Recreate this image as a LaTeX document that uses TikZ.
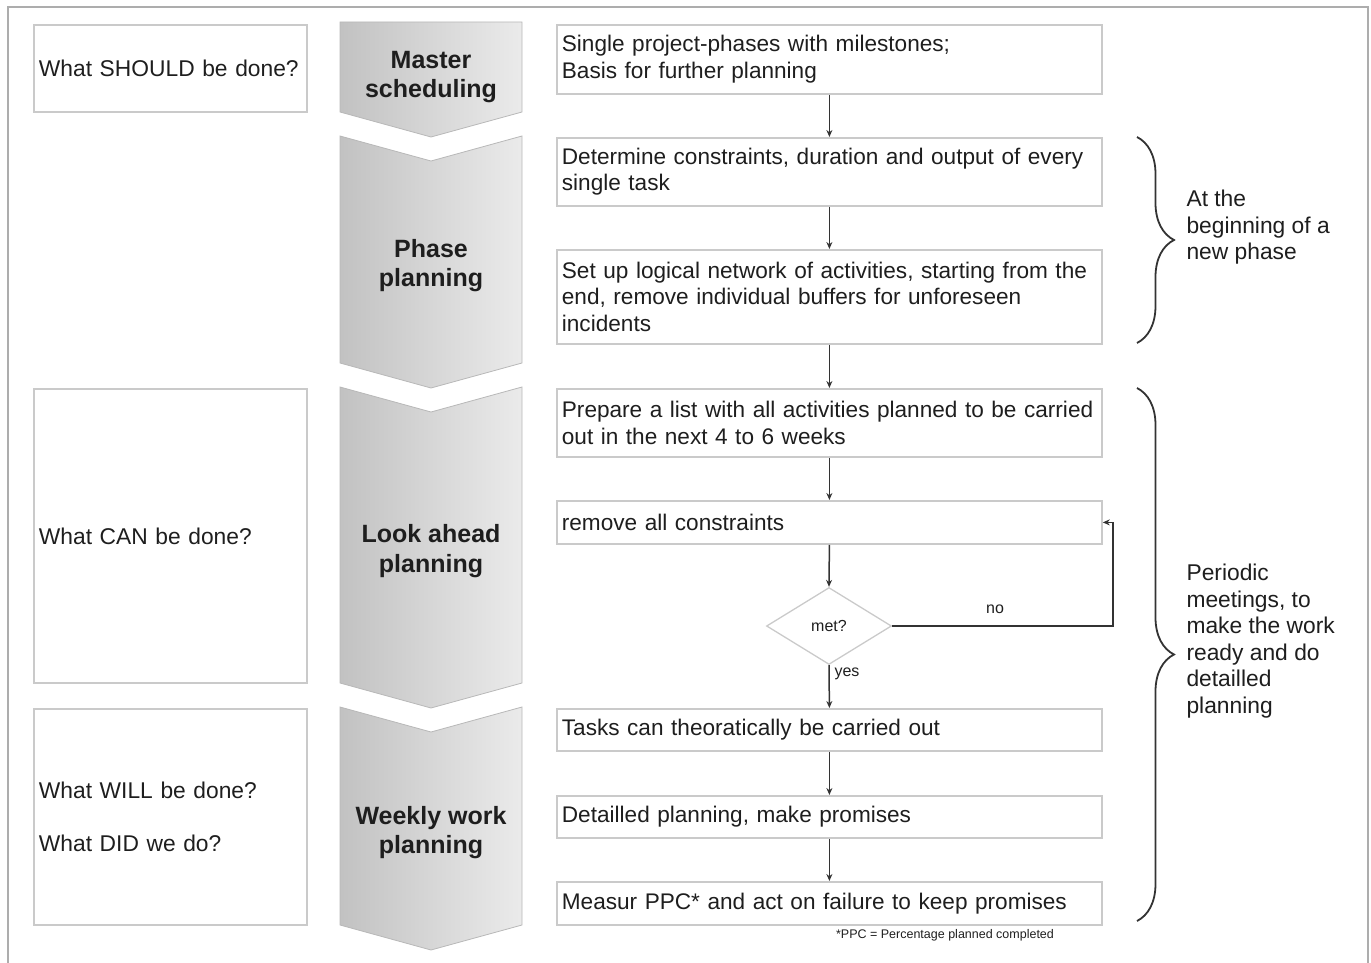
\documentclass[tikz,border=0pt]{standalone}
\usepackage{fontspec}
\setmainfont{Liberation Sans}
\usetikzlibrary{shapes.geometric,arrows.meta,decorations.pathreplacing}
\definecolor{boxline}{HTML}{CACACA}
\definecolor{ink}{HTML}{1E1E1E}
\definecolor{arrowc}{HTML}{333333}
\hyphenpenalty=10000
\exhyphenpenalty=10000
\begin{document}
\begin{tikzpicture}[x=1pt,y=-1pt,
  every node/.style={text=ink},
  rbox/.style={draw=boxline, line width=1.8pt, anchor=north west, align=left,
    text width=535pt, inner xsep=5pt, inner ysep=0pt,
    font=\fontsize{22.6}{26.5}\selectfont},
  lbox/.style={draw=boxline, line width=1.8pt, anchor=north west, align=left,
    text width=263pt, inner xsep=5pt, inner ysep=0pt,
    font=\fontsize{22.8}{26.5}\selectfont},
  chev/.style={left color=black!24, right color=black!8, draw=black!28, line width=0.8pt},
  chevtext/.style={align=center, font=\fontsize{25}{29.5}\selectfont\bfseries},
  arr/.style={draw=arrowc, line width=1.5pt, -{Stealth[length=7pt,width=6pt]}},
  small/.style={font=\fontsize{16}{18}\selectfont},
  bracetext/.style={anchor=west, align=left, font=\fontsize{22.8}{26.5}\selectfont},
  bracedraw/.style={draw=arrowc, line width=1.8pt, decorate, decoration={brace, amplitude=37pt}}]
\useasboundingbox (0,0) rectangle (1371,963);
% outer frame
\draw[black!32, line width=2pt] (8,963) -- (8,7) -- (1368,7) -- (1368,963);

% left boxes
\node[lbox, minimum height=87pt] (q1) at (33,24) {What SHOULD be done?};
\node[lbox, minimum height=294pt] (q2) at (33,388) {What CAN be done?};
\node[lbox, minimum height=216pt] (q3) at (33,708) {What WILL be done?\\[26.5pt]What DID we do?};

% chevrons
\path[chev] (340,22) -- (522,22) -- (522,112) -- (431,137) -- (340,112) -- cycle;
\path[chev] (340,136) -- (431,161) -- (522,136) -- (522,363) -- (431,388) -- (340,363) -- cycle;
\path[chev] (340,387) -- (431,412) -- (522,387) -- (522,683) -- (431,708) -- (340,683) -- cycle;
\path[chev] (340,707) -- (431,732) -- (522,707) -- (522,925) -- (431,950) -- (340,925) -- cycle;
\node[chevtext] (c1) at (431,77) {Master\\scheduling};
\node[chevtext] (c2) at (431,265.5) {Phase\\planning};
\node[chevtext] (c3) at (431,551) {Look ahead\\planning};
\node[chevtext] (c4) at (431,832.5) {Weekly work\\planning};

% right boxes
\node[rbox, minimum height=69pt] (b1) at (556,24) {Single project-phases with milestones;\\Basis for further planning};
\node[rbox, minimum height=68pt] (b2) at (556,137) {Determine constraints, duration and output of every\\single task};
\node[rbox, minimum height=94pt] (b3) at (556,249) {Set up logical network of activities, starting from the\\end, remove individual buffers for unforeseen\\incidents};
\node[rbox, minimum height=68pt] (b4) at (556,388) {Prepare a list with all activities planned to be carried\\out in the next 4 to 6 weeks};
\node[rbox, minimum height=43pt] (b5) at (556,500) {remove all constraints};
\node[diamond, draw=boxline, line width=1.3pt, minimum width=125pt, minimum height=77pt,
  inner sep=0pt, font=\fontsize{16}{18}\selectfont] (d) at (829,626) {met?};
\node[rbox, minimum height=42pt] (b6) at (556,708) {Tasks can theoratically be carried out};
\node[rbox, minimum height=42pt] (b7) at (556,795) {Detailled planning, make promises};
\node[rbox, minimum height=43pt] (b8) at (556,881) {Measur PPC* and act on failure to keep promises};
\node[font=\fontsize{12.5}{14}\selectfont] (fn) at (945,935) {*PPC = Percentage planned completed};

% arrows
\draw[arr] (b1.south) -- (b2.north);
\draw[arr] (b2.south) -- (b3.north);
\draw[arr] (b3.south) -- (b4.north);
\draw[arr] (b4.south) -- (b5.north);
\draw[arr] (b5.south) -- (d.north);
\draw[arr] (d.south) -- (b6.north);
\draw[arr] (b6.south) -- (b7.north);
\draw[arr] (b7.south) -- (b8.north);
\coordinate (loop) at (1113,626);
\draw[arr] (d.east) -- (loop) |- (b5.east);
\node[small] (no) at (995,609) {no};
\node[small, anchor=west] (yes) at (831,674) {yes};

% braces
\draw[bracedraw] (1137,137) -- (1137,343);
\draw[bracedraw] (1137,388) -- (1137,921);
\node[bracetext] (t1) at (1183,227.5) {At the\\beginning of a\\new phase};
\node[bracetext] (t2) at (1183,641) {Periodic\\meetings, to\\make the work\\ready and do\\detailled\\planning};
\end{tikzpicture}
\end{document}
